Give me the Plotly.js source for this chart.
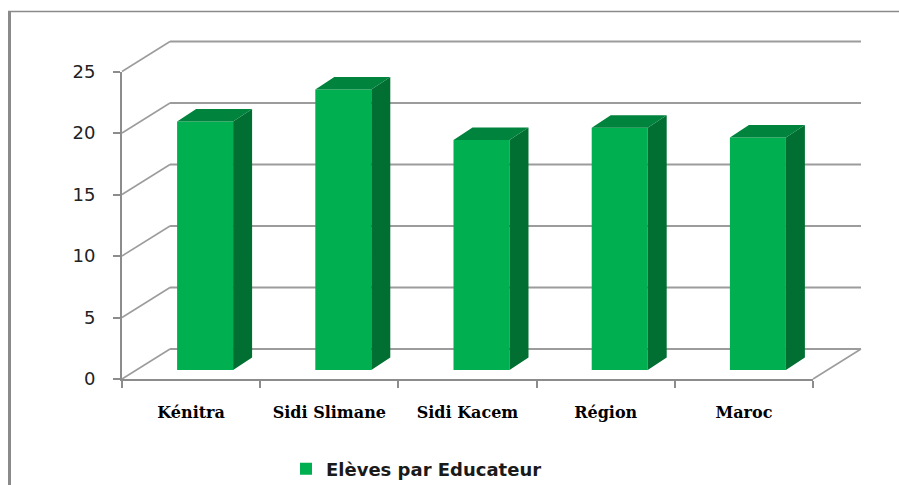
<!DOCTYPE html>
<html><head><meta charset="utf-8">
<script src="https://cdn.plot.ly/plotly-3.0.1.min.js"></script>
<style>html,body{margin:0;padding:0;background:#fff}#chart{width:899px;height:485px}</style>
</head><body><div id="chart"></div>
<script>
// ---- data ----
const categories = ['Kénitra', 'Sidi Slimane', 'Sidi Kacem', 'Région', 'Maroc'];
const values = [20.2, 22.8, 18.7, 19.7, 18.9];
const seriesName = 'Elèves par Educateur';
const yTicks = [0, 5, 10, 15, 20, 25];

// ---- geometry (pixels) ----
const W = 899, H = 485;
const frontL = 122, frontR = 813, frontB = 379, frontT = 71.5;
const depthX = 48, depthY = 30;
const areaL = 112, areaR = 871, areaT = 31, areaB = 385;
const nCat = categories.length;
const xMin = -0.5, xMax = nCat - 0.5, yMin = 0, yMax = 25;
const pxX = (frontR - frontL) / (xMax - xMin);
const pxY = (frontB - frontT) / (yMax - yMin);
const areaW = areaR - areaL, areaH = areaB - areaT;
const DXb = depthX / pxX, DYb = depthY / pxY;
const backL = frontL + depthX, backB = frontB - depthY;
const x1range = [xMin - (backL - areaL) / pxX, xMin + (areaR - backL) / pxX];
const y1range = [yMin - (areaB - backB) / pxY, yMin + (backB - areaT) / pxY];

const barShift = 14 / pxX, barW = 56 / pxX, barBase = 9 / pxY;
const sideX = 19 / pxX, sideY = 12.5 / pxY;

const colFront = '#00B050', colSide = '#006F31', colTop = '#00843D';
const gridCol = '#9c9c9c', axisCol = '#8c8c8c';

// ---- traces ----
const xs = categories.map((c, i) => i);
const bars = {
  type: 'bar', name: seriesName, x: xs, y: values,
  base: values.map(() => barBase), width: barW, offset: barShift - barW / 2,
  marker: {color: colFront, line: {width: 0}},
  xaxis: 'x2', yaxis: 'y2', hoverinfo: 'skip'
};
const sx = [], sy = [], tx = [], ty = [];
values.forEach((v, i) => {
  const xl = i + barShift - barW / 2, xr = xl + barW;
  const top = barBase + v;
  sx.push(xr, xr, xr + sideX, xr + sideX, xr, null);
  sy.push(barBase, top, top + sideY, barBase + sideY, barBase, null);
  tx.push(xl, xr, xr + sideX, xl + sideX, xl, null);
  ty.push(top, top, top + sideY, top + sideY, top, null);
});
const sides = {type: 'scatter', mode: 'lines', x: sx, y: sy, fill: 'toself', fillcolor: colSide,
  line: {width: 0, color: colSide}, xaxis: 'x2', yaxis: 'y2', showlegend: false, hoverinfo: 'skip'};
const tops = {type: 'scatter', mode: 'lines', x: tx, y: ty, fill: 'toself', fillcolor: colTop,
  line: {width: 0, color: colTop}, xaxis: 'x2', yaxis: 'y2', showlegend: false, hoverinfo: 'skip'};

// ---- frame shapes (back wall in x/y coords) ----
const shapes = [];
yTicks.forEach(v => {
  shapes.push({type: 'line', xref: 'x', yref: 'y', layer: 'below', x0: xMin, x1: xMax, y0: v, y1: v,
    line: {color: gridCol, width: 2}});
  shapes.push({type: 'line', xref: 'x', yref: 'y', layer: 'below', x0: xMin - DXb, y0: v - DYb, x1: xMin, y1: v,
    line: {color: gridCol, width: 1.5}});
});
shapes.push({type: 'line', xref: 'x', yref: 'y', layer: 'below', x0: xMax - DXb, y0: yMin - DYb, x1: xMax, y1: yMin,
  line: {color: gridCol, width: 1.5}});
// outer chart border (left and top)
const px2paperX = p => (p - areaL) / areaW;
const px2paperY = q => (areaB - q) / areaH;
shapes.push({type: 'line', xref: 'paper', yref: 'paper', x0: px2paperX(9.5), x1: px2paperX(9.5), y0: px2paperY(11), y1: px2paperY(H + 2),
  line: {color: '#8a8a8a', width: 3}});
shapes.push({type: 'line', xref: 'paper', yref: 'paper', x0: px2paperX(8), x1: px2paperX(W + 2), y0: px2paperY(11.5), y1: px2paperY(11.5),
  line: {color: '#8a8a8a', width: 1.5}});

const hidden = {showgrid: false, zeroline: false, showline: false, showticklabels: false, ticks: '', fixedrange: true};
const layout = {
  width: W, height: H,
  margin: {l: areaL, r: W - areaR, t: areaT, b: H - areaB, pad: 0, autoexpand: false},
  paper_bgcolor: '#ffffff', plot_bgcolor: 'rgba(0,0,0,0)',
  font: {family: 'DejaVu Sans', color: '#1a1a1a'},
  showlegend: true, hovermode: false,
  xaxis: Object.assign({domain: [0, 1], range: x1range}, hidden),
  yaxis: Object.assign({domain: [0, 1], range: y1range}, hidden),
  xaxis2: {
    domain: [(frontL - areaL) / areaW, (frontR - areaL) / areaW], range: [xMin, xMax], anchor: 'y2',
    tickmode: 'array', tickvals: xs, ticktext: categories, ticks: '',
    minor: {tickmode: 'array', tickvals: [-0.5, 0.5, 1.5, 2.5, 3.5, 4.5], ticks: 'outside', ticklen: 7, tickwidth: 2, tickcolor: axisCol, showgrid: false},
    showline: true, linecolor: axisCol, linewidth: 2, showgrid: false, zeroline: false, automargin: false,
    tickfont: {family: 'DejaVu Serif', size: 16, color: '#000', weight: 'bold'}, ticklabelstandoff: 18, fixedrange: true
  },
  yaxis2: {
    domain: [(areaB - frontB) / areaH, (areaB - frontT) / areaH], range: [yMin, yMax], anchor: 'x2',
    tickmode: 'array', tickvals: yTicks, ticks: 'outside', ticklen: 7, tickwidth: 2, tickcolor: axisCol,
    showline: true, linecolor: axisCol, linewidth: 2, showgrid: false, zeroline: false, automargin: false,
    tickfont: {family: 'DejaVu Sans', size: 18, color: '#222'}, ticklabelstandoff: 14, fixedrange: true
  },
  legend: {orientation: 'h', x: px2paperX(286), xanchor: 'left', y: px2paperY(469), yanchor: 'middle',
    font: {family: 'DejaVu Sans', size: 18, color: '#1a1a1a', weight: 'bold'}, bgcolor: 'rgba(0,0,0,0)'},
  shapes: shapes
};
Plotly.newPlot('chart', [bars, sides, tops], layout, {displayModeBar: false, staticPlot: true});
</script></body></html>
